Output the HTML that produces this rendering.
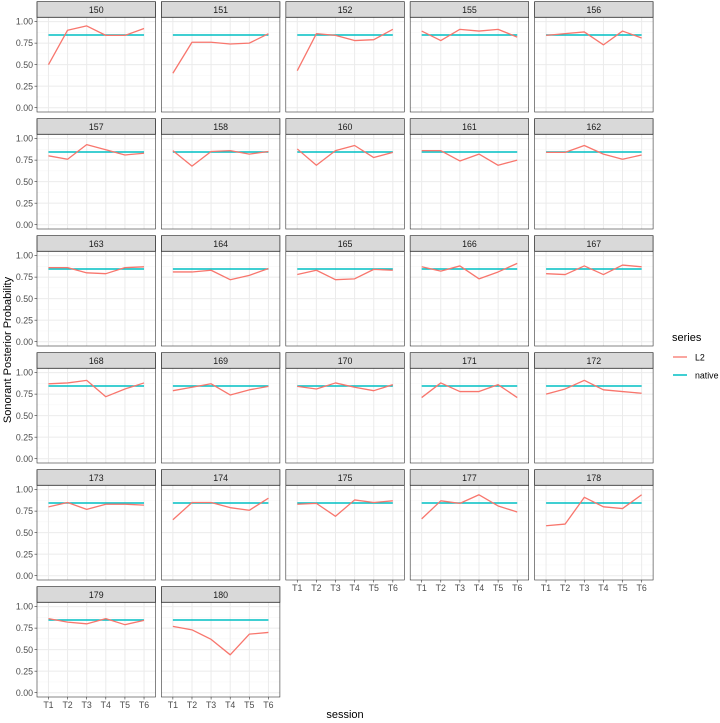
<!DOCTYPE html>
<html><head><meta charset="utf-8"><style>
html,body{margin:0;padding:0;background:#fff;width:720px;height:723px;overflow:hidden}
svg{display:block;font-family:"Liberation Sans",sans-serif}
</style></head><body>
<svg id="s" width="720" height="723" xmlns="http://www.w3.org/2000/svg"></svg>
<script>
const D=[
["150",[.50,.90,.95,.84,.84,.92]],["151",[.40,.76,.76,.74,.75,.86]],["152",[.43,.86,.84,.78,.79,.91]],["155",[.89,.78,.91,.89,.91,.82]],["156",[.84,.86,.88,.73,.89,.81]],
["157",[.80,.76,.93,.87,.81,.83]],["158",[.86,.68,.85,.86,.82,.85]],["160",[.88,.69,.86,.92,.78,.84]],["161",[.86,.86,.74,.82,.69,.75]],["162",[.84,.84,.92,.82,.76,.81]],
["163",[.86,.86,.80,.79,.86,.87]],["164",[.81,.81,.83,.72,.77,.85]],["165",[.78,.83,.72,.73,.84,.83]],["166",[.87,.82,.88,.73,.81,.91]],["167",[.79,.78,.88,.78,.89,.87]],
["168",[.87,.88,.91,.72,.81,.88]],["169",[.79,.83,.87,.74,.80,.84]],["170",[.84,.81,.88,.83,.79,.86]],["171",[.71,.88,.78,.78,.86,.71]],["172",[.75,.81,.91,.80,.78,.76]],
["173",[.80,.85,.77,.83,.83,.82]],["174",[.65,.85,.85,.79,.76,.90]],["175",[.83,.84,.69,.88,.85,.87]],["177",[.66,.87,.84,.94,.81,.74]],["178",[.58,.60,.91,.80,.78,.94]],
["179",[.86,.82,.80,.86,.79,.84]],["180",[.77,.73,.62,.44,.68,.70]]];
let h='';
const W=118.5,PH=94.7,SH=15.6,NAT=0.845;
D.forEach((d,i)=>{
 const c=i%5,r=Math.floor(i/5);
 const L=37+c*124.4, St=1.7+r*117, T=St+SH, B=T+PH;
 const X=k=>L+(0.6+k)*W/6.2, Y=v=>T+(1.05-v)*PH/1.1;
 // strip
 h+=`<rect x="${L}" y="${St}" width="${W}" height="${SH}" fill="#D9D9D9" stroke="#333" stroke-width="0.6"/>`;
 h+=`<text x="${L+W/2}" y="${St+11.3}" font-size="8.8" fill="#1A1A1A" text-anchor="middle">${d[0]}</text>`;
 h+=`<rect x="${L}" y="${T}" width="${W}" height="${PH}" fill="#fff"/>`;
 // grid minor
 for(let v=0.125;v<1;v+=0.25)h+=`<line x1="${L}" x2="${L+W}" y1="${Y(v)}" y2="${Y(v)}" stroke="#F4F4F4" stroke-width="0.5"/>`;
 for(let v=0;v<=1.001;v+=0.25)h+=`<line x1="${L}" x2="${L+W}" y1="${Y(v)}" y2="${Y(v)}" stroke="#EBEBEB" stroke-width="1"/>`;
 for(let k=0;k<6;k++)h+=`<line x1="${X(k)}" x2="${X(k)}" y1="${T}" y2="${B}" stroke="#EBEBEB" stroke-width="1"/>`;
 h+=`<line x1="${X(0)}" x2="${X(5)}" y1="${Y(NAT)}" y2="${Y(NAT)}" stroke="#00BFC4" stroke-width="1.5"/>`;
 h+=`<polyline fill="none" stroke="#F8766D" stroke-width="1.3" stroke-linejoin="round" points="${d[1].map((v,k)=>X(k)+','+Y(v)).join(' ')}"/>`;
 h+=`<rect x="${L}" y="${St}" width="${W}" height="${SH+PH}" fill="none" stroke="#333" stroke-width="0.6"/>`;
 h+=`<line x1="${L}" x2="${L+W}" y1="${T}" y2="${T}" stroke="#333" stroke-width="0.8"/>`;
 if(c==0){
  [0,.25,.5,.75,1].forEach(v=>{
   h+=`<line x1="${L-2.5}" x2="${L}" y1="${Y(v)}" y2="${Y(v)}" stroke="#333" stroke-width="0.6"/>`;
   h+=`<text x="${L-4}" y="${Y(v)+3.1}" font-size="8.8" fill="#4D4D4D" text-anchor="end">${v.toFixed(2)}</text>`;
  });
 }
 const bottom = (r==5)||(r==4&&c>=2);
 if(bottom){
  for(let k=0;k<6;k++){
   h+=`<line x1="${X(k)}" x2="${X(k)}" y1="${B}" y2="${B+2.5}" stroke="#333" stroke-width="0.6"/>`;
   h+=`<text x="${X(k)}" y="${B+11}" font-size="8.8" fill="#4D4D4D" text-anchor="middle">T${k+1}</text>`;
  }
 }
});
h+=`<text x="345" y="718" font-size="11" fill="#000" text-anchor="middle">session</text>`;
h+=`<text transform="translate(11,350) rotate(-90)" font-size="11" fill="#000" text-anchor="middle">Sonorant Posterior Probability</text>`;
h+=`<text x="672" y="341" font-size="11" fill="#000">series</text>`;
h+=`<line x1="673" x2="687" y1="357" y2="357" stroke="#F8766D" stroke-width="1.3"/>`;
h+=`<text x="695" y="360.5" font-size="8.8" fill="#000">L2</text>`;
h+=`<line x1="673" x2="687" y1="375" y2="375" stroke="#00BFC4" stroke-width="1.5"/>`;
h+=`<text x="695" y="378.5" font-size="8.8" fill="#000">native</text>`;
document.getElementById('s').innerHTML=h;
</script>
</body></html>
